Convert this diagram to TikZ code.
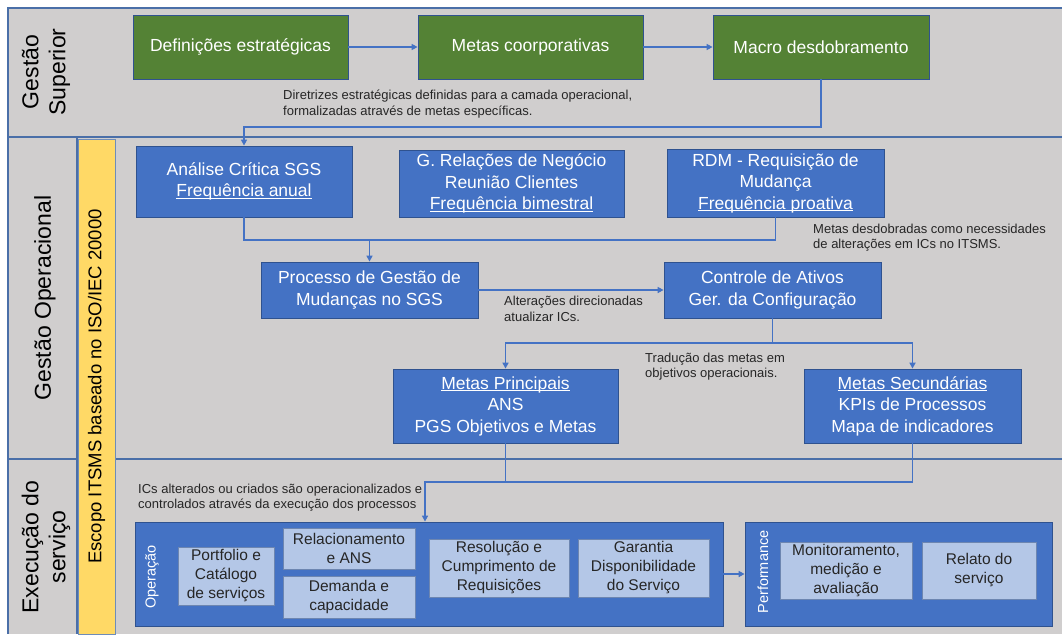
\documentclass[tikz,border=0pt]{standalone}
\usepackage{fontspec}
\setmainfont{Liberation Sans}
\usetikzlibrary{arrows.meta}
\definecolor{bg}{HTML}{D0CECE}
\definecolor{bluefill}{HTML}{4472C4}
\definecolor{bordc}{HTML}{2F528F}
\definecolor{greenfill}{HTML}{548235}
\definecolor{lightb}{HTML}{B4C7E7}
\definecolor{yel}{HTML}{FFD966}
\definecolor{lanec}{HTML}{4A6FA8}
\definecolor{txt}{HTML}{262626}
\newcommand\ulx[1]{\vphantom{#1}\underline{\smash{#1}}}
\begin{document}
\begin{tikzpicture}[x=1pt,y=-1pt,
 box/.style={draw=bordc, line width=0.8pt, inner sep=0pt, align=center, text=white, font=\fontsize{17.5}{21.5}\selectfont},
 gbox/.style={box, fill=greenfill},
 bbox/.style={box, fill=bluefill},
 lbox/.style={draw=bordc!70, line width=0.8pt, fill=lightb, inner sep=0pt, align=center, text=txt, font=\fontsize{15.5}{19}\selectfont},
 cont/.style={draw=bordc, line width=0.8pt, fill=bluefill, inner sep=0pt},
 conn/.style={draw=bluefill, line width=1.5pt},
 arr/.style={conn, -{Triangle[length=6pt,width=6pt]}},
 note/.style={inner sep=0pt, align=left, anchor=west, font=\fontsize{13}{15.5}\selectfont, text=txt},
 lanelab/.style={font=\fontsize{23}{27}\selectfont, align=center, rotate=90, inner sep=0pt, text=black},
 sublab/.style={font=\fontsize{14.5}{17}\selectfont, rotate=90, inner sep=0pt, text=white},
 laneline/.style={draw=lanec, line width=1.2pt},
]
\useasboundingbox (0,0) rectangle (1062,634);
\fill[bg] (8,8) rectangle (1062,634);
\draw[laneline] (1062,8) -- (8,8) -- (8,634);
\draw[laneline] (8,137) -- (1062,137);
\draw[laneline] (8,459) -- (1062,459);
\draw[laneline] (77,137) -- (77,634);

% lane labels
\node[lanelab] (l1) at (46,72) {Gestão\\Superior};
\node[lanelab] (l2) at (45,298) {Gestão Operacional};
\node[lanelab] (l3) at (46,547) {Execução do\\serviço};
\node[draw=lanec!80, line width=0.8pt, fill=yel, rotate=90, minimum width=495pt, minimum height=37pt, inner sep=0pt,
      font=\fontsize{18.5}{22}\selectfont] (scope) at (96.5,386.5) {Escopo ITSMS baseado no ISO/IEC 20000};

% top band
\node[gbox, minimum width=215pt, minimum height=64pt] (def) at (240.5,47) {Definições estratégicas};
\node[gbox, minimum width=225pt, minimum height=64pt] (metas) at (530.5,47) {Metas coorporativas};
\node[gbox, minimum width=216pt, minimum height=64pt] (macro) at (821,47) {Macro desdobramento};
\draw[arr] (def) -- (metas);
\draw[arr] (metas) -- (macro);
\node[note] (n1) at (283,104) {Diretrizes estratégicas definidas para a camada operacional,\\formalizadas através de metas específicas.};

% middle band
\node[bbox, minimum width=216pt, minimum height=71pt] (ana) at (244,181.5) {Análise Crítica SGS\\\ulx{Frequência anual}};
\node[bbox, minimum width=225pt, minimum height=67pt] (grn) at (511.5,183.5) {G. Relações de Negócio\\Reunião Clientes\\\ulx{Frequência bimestral}};
\node[bbox, minimum width=217pt, minimum height=68pt] (rdm) at (775.5,183) {RDM - Requisição de\\Mudança\\\ulx{Frequência proativa}};
\coordinate (k1) at (244,127);
\draw[arr] (macro.south) |- (k1) -- (ana.north);

\node[bbox, minimum width=217pt, minimum height=56pt] (proc) at (369.5,290) {Processo de Gestão de\\Mudanças no SGS};
\node[bbox, minimum width=217pt, minimum height=56pt] (ctrl) at (772.5,290) {Controle de Ativos\\Ger. da Configuração};
\coordinate (k2) at (369.5,240);
\draw[conn] (ana.south) |- (k2) -| (rdm.south);
\draw[arr] (k2) -- (proc.north);
\draw[arr] (proc) -- (ctrl);
\node[note] (n2) at (813,237.5) {Metas desdobradas como necessidades\\de alterações em ICs no ITSMS.};
\node[note] (n3) at (504,309) {Alterações direcionadas\\atualizar ICs.};

\node[bbox, minimum width=225pt, minimum height=74pt] (mp) at (505.5,406) {\ulx{Metas Principais}\\ANS\\PGS Objetivos e Metas};
\node[bbox, minimum width=217pt, minimum height=74pt] (ms) at (912.5,406) {\ulx{Metas Secundárias}\\KPIs de Processos\\Mapa de indicadores};
\coordinate (k3) at (772.5,343);
\draw[conn] (ctrl.south) -- (k3);
\draw[arr] (k3) -| (mp.north);
\draw[arr] (k3) -| (ms.north);
\node[note] (n4) at (645,366.5) {Tradução das metas em\\objetivos operacionais.};

% bottom band
\node[cont, minimum width=588pt, minimum height=104pt] (op) at (429,574) {};
\node[cont, minimum width=307pt, minimum height=104pt] (perf) at (898.5,574) {};
\node[sublab] (opl) at (152,577) {Operação};
\node[sublab] (perfl) at (763,572) {Performance};
\coordinate (k4) at (425,482);
\coordinate (k5) at (505.5,482);
\draw[arr] (mp.south) |- (k4) -- (k4 |- op.north);
\draw[conn] (ms.south) |- (k5);
\draw[arr] (op) -- (perf);
\node[note] (n5) at (138,497.5) {ICs alterados ou criados são operacionalizados e\\controlados através da execução dos processos};

\node[lbox, minimum width=96pt, minimum height=58pt] (port) at (226,576) {Portfolio e\\Catálogo\\de serviços};
\node[lbox, minimum width=132pt, minimum height=41pt] (rel) at (349,548.5) {Relacionamento\\e ANS};
\node[lbox, minimum width=132pt, minimum height=42pt] (dem) at (349,597) {Demanda e\\capacidade};
\node[lbox, minimum width=140pt, minimum height=58pt] (res) at (499,568) {Resolução e\\Cumprimento de\\Requisições};
\node[lbox, minimum width=131pt, minimum height=58pt] (gar) at (643.5,568) {Garantia\\Disponibilidade\\do Serviço};
\node[lbox, minimum width=132pt, minimum height=57pt] (mon) at (846,570.5) {Monitoramento,\\medição e\\avaliação};
\node[lbox, minimum width=114pt, minimum height=57pt] (rel2) at (979,570.5) {Relato do\\serviço};
\end{tikzpicture}
\end{document}
